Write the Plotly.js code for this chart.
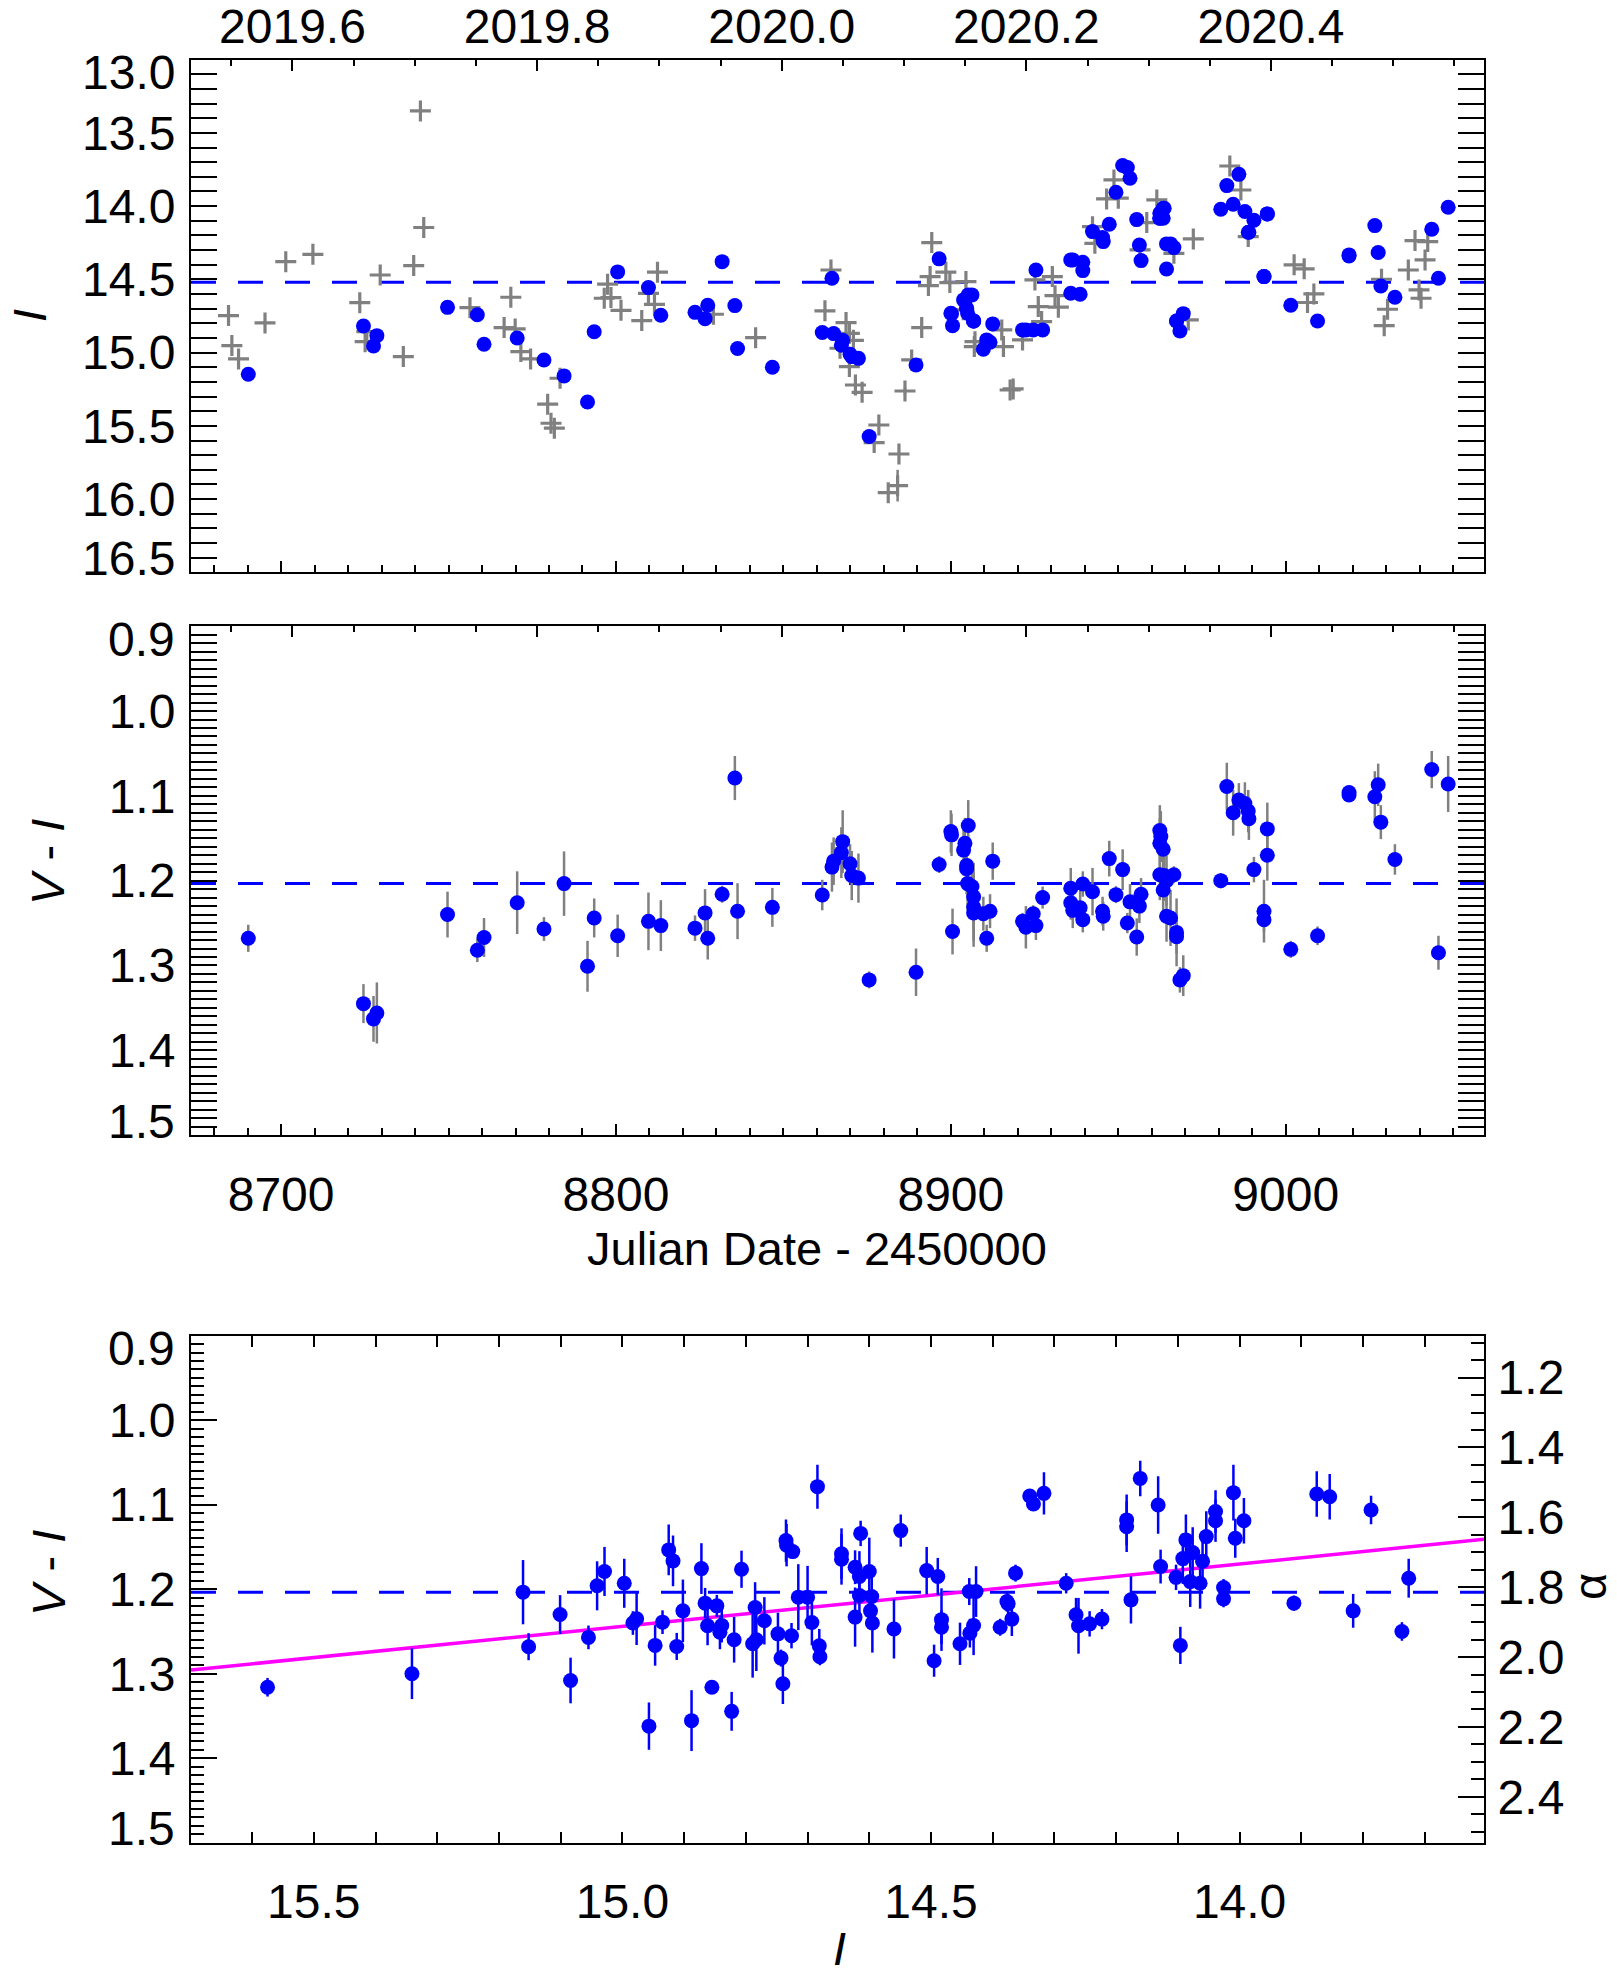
<!DOCTYPE html>
<html>
<head>
<meta charset="utf-8">
<script src="https://cdn.plot.ly/plotly-3.0.1.min.js"></script>
<style>html,body{margin:0;padding:0;background:#fff}</style>
</head>
<body>
<div id="chart" style="width:1617px;height:1979px"></div>
<script>
// ---------- Data: epochs with V and I (blue) ----------
const jdColor = [8690.2, 8724.6, 8727.6, 8728.6, 8749.7, 8758.6, 8760.6, 8770.5, 8778.5, 8784.5, 8791.5, 8793.5, 8800.5,
  8809.7, 8813.4, 8823.6, 8826.6, 8827.4, 8831.7, 8835.5, 8836.3, 8846.7, 8861.6,
  8864.5, 8865.0, 8867.3, 8867.7, 8869.9, 8870.4, 8872.4, 8875.6, 8889.6, 8896.5, 8900.0, 8900.2, 8900.5,
  8905.2, 8904.2, 8903.8, 8904.7, 8904.7, 8905.0, 8906.3, 8906.8, 8906.8, 8906.8,
  8912.5, 8909.7, 8911.7, 8910.7, 8921.4, 8922.4, 8924.6, 8925.4, 8927.4,
  8935.8, 8935.8, 8936.4, 8939.4, 8938.6, 8939.4, 8942.3, 8945.3, 8945.5, 8947.3, 8949.3, 8951.3, 8952.7, 8953.5, 8955.5, 8956.3, 8956.8,
  8962.4, 8962.7, 8962.4, 8963.4, 8962.4, 8963.7, 8966.6, 8964.4, 8963.4, 8964.4, 8965.6, 8967.4, 8967.4, 8968.4, 8969.4,
  8980.6, 8982.4, 8984.3, 8986.0, 8987.8, 8988.8, 8989.0, 8990.5, 8994.5, 8994.5, 8993.5, 8993.5,
  9001.5, 9009.5, 9018.9, 9018.9, 9026.6, 9027.6, 9028.4, 9032.6, 9043.6, 9045.6, 9048.5];
const iColor = [15.148, 14.818, 14.955, 14.884, 14.691, 14.741, 14.943, 14.900, 15.050, 15.159, 15.337, 14.857, 14.449,
  14.556, 14.745, 14.725, 14.768, 14.677, 14.379, 14.679, 14.972, 15.100, 14.863,
  14.492, 14.870, 14.950, 14.916, 15.011, 15.027, 15.039, 15.573, 15.084, 14.360, 14.731, 14.735, 14.816,
  14.606, 14.640, 14.640, 14.697, 14.697, 14.731, 14.606, 14.784, 14.784, 14.784,
  14.804, 14.977, 14.929, 14.913, 14.845, 14.845, 14.845, 14.436, 14.845,
  14.595, 14.367, 14.367, 14.383, 14.602, 14.440, 14.174, 14.215, 14.242, 14.124, 13.905, 13.723, 13.737, 13.810, 14.092, 14.265, 14.372,
  14.083, 14.049, 14.083, 14.015, 14.049, 14.015, 14.283, 14.429, 14.083, 14.258, 14.258, 14.784, 14.784, 14.852, 14.734,
  14.021, 13.860, 13.987, 13.783, 14.037, 14.178, 14.178, 14.096, 14.053, 14.053, 14.481, 14.481,
  14.677, 14.784, 14.333, 14.340, 14.133, 14.317, 14.545, 14.622, 14.158, 14.492, 14.008];
const viColor = [1.268, 1.345, 1.363, 1.356, 1.240, 1.282, 1.267, 1.226, 1.257, 1.2035, 1.301, 1.244, 1.265,
  1.248, 1.253, 1.256, 1.238, 1.268, 1.216, 1.079, 1.236, 1.2315, 1.217,
  1.184, 1.177, 1.167, 1.154, 1.180, 1.194, 1.197, 1.317, 1.308, 1.181, 1.142, 1.146, 1.260,
  1.135, 1.156, 1.164, 1.182, 1.186, 1.2035, 1.207, 1.219, 1.231, 1.238,
  1.177, 1.239, 1.236, 1.268, 1.248, 1.255, 1.239, 1.253, 1.220,
  1.209, 1.226, 1.235, 1.204, 1.232, 1.246, 1.213, 1.236, 1.242, 1.174, 1.2165, 1.187, 1.250, 1.225, 1.2665, 1.230, 1.216,
  1.141, 1.148, 1.156, 1.163, 1.193, 1.194, 1.193, 1.200, 1.211, 1.242, 1.244, 1.261, 1.266, 1.317, 1.312,
  1.200, 1.089, 1.120, 1.105, 1.109, 1.118, 1.127, 1.187, 1.139, 1.170, 1.236, 1.246,
  1.281, 1.265, 1.096, 1.099, 1.101, 1.087, 1.131, 1.175, 1.069, 1.285, 1.086];
const viColorErr = [0.016, 0.023, 0.027, 0.036, 0.027, 0.014, 0.023, 0.037, 0.014, 0.038, 0.030, 0.023, 0.025,
  0.034, 0.030, 0.015, 0.028, 0.025, 0.010, 0.026, 0.033, 0.023, 0.018,
  0.029, 0.028, 0.030, 0.037, 0.023, 0.029, 0.029, 0.010, 0.028, 0.010, 0.025, 0.025, 0.027,
  0.03, 0.03, 0.03, 0.03, 0.03, 0.03, 0.03, 0.04, 0.04, 0.04,
  0.022, 0.02, 0.02, 0.016, 0.01, 0.025, 0.01, 0.017, 0.013,
  0.024, 0.02, 0.021, 0.015, 0.02, 0.015, 0.028, 0.017, 0.017, 0.021, 0.01, 0.024, 0.012, 0.021, 0.022, 0.02, 0.019,
  0.03, 0.03, 0.03, 0.03, 0.03, 0.03, 0.01, 0.03, 0.03, 0.03, 0.033, 0.04, 0.02, 0.015, 0.024,
  0.009, 0.028, 0.027, 0.02, 0.025, 0.025, 0.025, 0.015, 0.031, 0.03, 0.037, 0.015,
  0.01, 0.011, 0.008, 0.008, 0.03, 0.025, 0.02, 0.018, 0.022, 0.02, 0.033];

// ---------- Data: I-only epochs (grey crosses) ----------
const jdGrey = [8684.3, 8685.3, 8687.3, 8695.2, 8701.4, 8709.5, 8723.5, 8725.6, 8725.1, 8729.6, 8736.5, 8739.6, 8741.6, 8742.6,
  8756.4, 8766.6, 8768.6, 8769.9, 8771.6, 8774.5, 8779.6, 8780.6, 8781.6, 8783.3, 8797.5, 8796.5, 8798.5, 8801.5,
  8807.7, 8812.4, 8811.5, 8809.7, 8829.1, 8841.7, 8862.4, 8864.2, 8868.7, 8869.7, 8870.9, 8866.9, 8869.7, 8871.5, 8873.5,
  8878.5, 8877.1, 8884.5, 8884.1, 8881.3, 8886.3, 8888.3, 8891.3, 8894.3, 8893.8, 8893.3, 8898.5, 8899.7, 8904.5, 8903.7,
  8915.2, 8915.7, 8907.2, 8907.0, 8917.7, 8918.6, 8921.4, 8925.1, 8926.1, 8930.3, 8931.1, 8932.1, 8927.1,
  8942.3, 8943.0, 8946.5, 8948.7, 8950.0, 8958.5, 8961.5, 8966.6, 8956.5, 8972.4, 8970.9, 8983.3, 8986.6, 8988.8,
  9002.5, 9005.5, 9008.4, 9006.5, 9028.6, 9030.4, 9029.4, 9036.6, 9038.6, 9042.4, 9041.6, 9039.8, 9040.4];
const iGrey = [14.747, 14.952, 15.043, 14.797, 14.379, 14.329, 14.659, 14.857, 14.925, 14.470, 15.027, 14.406, 13.350, 14.146,
  14.693, 14.829, 14.622, 14.838, 14.993, 15.043, 15.352, 15.482, 15.516, 15.175, 14.533, 14.629, 14.624, 14.711,
  14.781, 14.451, 14.670, 14.595, 14.738, 14.898, 14.715, 14.436, 14.795, 14.868, 14.916, 14.970, 15.095, 15.221, 15.271,
  15.494, 15.614, 15.692, 15.908, 15.956, 15.262, 15.050, 14.829, 14.249, 14.481, 14.542, 14.451, 14.522, 14.515, 14.708,
  14.845, 14.959, 14.925, 14.959, 15.255, 15.248, 14.913, 14.504, 14.686, 14.481, 14.611, 14.690, 14.788,
  14.140, 14.254, 13.951, 13.821, 13.946, 14.112, 13.958, 14.322, 14.299, 14.224, 14.777, 13.726, 13.890, 14.208,
  14.401, 14.428, 14.599, 14.658, 14.499, 14.704, 14.816, 14.436, 14.235, 14.242, 14.367, 14.572, 14.629];
const iGreyErr = [0, 0, 0, 0, 0, 0, 0, 0, 0, 0, 0, 0, 0, 0,
  0, 0, 0, 0, 0, 0, 0, 0, 0, 0, 0, 0, 0, 0,
  0, 0, 0, 0, 0, 0, 0, 0.02, 0, 0, 0, 0, 0, 0, 0,
  0, 0, 0, 0.108, 0, 0.03, 0.045, 0.04, 0, 0, 0, 0, 0, 0, 0.03,
  0, 0, 0, 0, 0, 0, 0.05, 0, 0.04, 0.05, 0, 0, 0,
  0, 0, 0, 0, 0, 0, 0, 0, 0, 0, 0, 0, 0, 0,
  0, 0, 0, 0, 0, 0, 0, 0, 0, 0, 0, 0, 0];

// ---------- Data: colour-magnitude panel ----------
const iCmd = [15.575, 15.341, 15.161, 15.152, 15.101, 15.084, 15.055, 15.041, 15.029, 14.997, 14.983,
  14.977, 14.947, 14.935, 14.925, 14.918, 14.902, 14.912, 14.872, 14.866, 14.862, 14.847, 14.842, 14.839, 14.855,
  14.888, 14.957, 14.823, 14.819, 14.807, 14.789, 14.783, 14.785, 14.770, 14.748, 14.743, 14.740, 14.735, 14.734,
  14.724, 14.726, 14.715, 14.700, 14.693, 14.684, 14.681, 14.680, 14.645, 14.645, 14.623, 14.616, 14.614, 14.600,
  14.616, 14.596, 14.623, 14.598, 14.595, 14.560, 14.549, 14.507, 14.489, 14.495, 14.483, 14.483, 14.453, 14.438,
  14.427, 14.437, 14.431, 14.388, 14.377, 14.375, 14.369, 14.363, 14.340, 14.334, 14.317, 14.281,
  14.265, 14.261, 14.243, 14.223, 14.183, 14.183, 14.176, 14.161, 14.132, 14.128, 14.103, 14.096, 14.087, 14.092,
  14.076, 14.080, 14.064, 14.060, 14.054, 14.039, 14.039, 14.026, 14.026, 14.010, 14.007, 13.993, 13.912, 13.875,
  13.854, 13.816, 13.787, 13.737, 13.726];
const viCmd = [1.316, 1.300, 1.2035, 1.268, 1.230, 1.308, 1.257, 1.196, 1.179, 1.193, 1.240,
  1.235, 1.2665, 1.239, 1.1535, 1.1665, 1.2256, 1.2677, 1.1756, 1.2165, 1.2433, 1.2197, 1.251, 1.243, 1.316,
  1.3555, 1.362, 1.3445, 1.2598, 1.1764, 1.2646, 1.2598, 1.2217, 1.2374, 1.2528, 1.2815, 1.3118, 1.1425, 1.148,
  1.1555, 1.255, 1.2094, 1.2094, 1.2394, 1.0787, 1.267, 1.280, 1.158, 1.1646, 1.174, 1.185, 1.134, 1.179,
  1.2075, 1.2087, 1.233, 1.2256, 1.240, 1.247, 1.1307, 1.178, 1.185, 1.2846, 1.236, 1.245, 1.2646, 1.2028,
  1.2028, 1.252, 1.243, 1.245, 1.2146, 1.2173, 1.2354, 1.181, 1.0898, 1.0992, 1.0866, 1.193,
  1.2303, 1.2433, 1.241, 1.2354, 1.118, 1.126, 1.2126, 1.0689, 1.1004, 1.1732, 1.186, 1.2665, 1.1417, 1.1638,
  1.1567, 1.191, 1.193, 1.167, 1.1378, 1.108, 1.119, 1.198, 1.2114, 1.0858, 1.1398, 1.119, 1.2165, 1.0874,
  1.0906, 1.2256, 1.1063, 1.250, 1.187];
const viCmdErr = [0.011, 0.030, 0.038, 0.016, 0.023, 0.027, 0.014, 0.029, 0.029, 0.029, 0.014,
  0.031, 0.024, 0.014, 0.03, 0.03, 0.037, 0.016, 0.03, 0.018, 0.023, 0.013, 0.02, 0.02, 0.008,
  0.036, 0.028, 0.023, 0.027, 0.022, 0.04, 0.037, 0.03, 0.028, 0.025, 0.01, 0.024, 0.025, 0.025,
  0.007, 0.015, 0.039, 0.037, 0.027, 0.026, 0.02, 0.01, 0.03, 0.03, 0.02, 0.03, 0.015, 0.04,
  0.03, 0.03, 0.035, 0.02, 0.035, 0.035, 0.019, 0.028, 0.022, 0.019, 0.037, 0.02, 0.025, 0.016,
  0.03, 0.017, 0.035, 0.01, 0.012, 0.012, 0.02, 0.01, 0.008, 0.008, 0.025, 0.012,
  0.02, 0.033, 0.015, 0.012, 0.03, 0.03, 0.028, 0.021, 0.034, 0.02, 0.015, 0.022, 0.03, 0.03,
  0.03, 0.03, 0.03, 0.03, 0.03, 0.025, 0.025, 0.01, 0.01, 0.033, 0.023, 0.027, 0.009, 0.027,
  0.027, 0.02, 0.017, 0.011, 0.023];

// ---------- Reference values ----------
const iMean = 14.52;          // mean I (dashed line, top panel)
const viMean = 1.2035;        // mean V-I (dashed lines)
const fitSlope = 0.0738;      // V-I per mag of I (magenta fit)
const fitViAt145 = 1.2071;    // fitted V-I at I = 14.5
const jdRange = [8673.1, 9059.2];
const iLimits = [16.5, 13.0];      // top panel I axis (bottom, top)
const viLimits = [1.5, 0.9];       // V-I axes (bottom, top)
const iRangeCmd = [15.699, 13.604];
const yearOf = jd => 2020 + (jd - 8849.5) / 365.25;
const alphaOf = vi => 1.8 + 2.419 * (vi - 1.1976);
// the end labels sit inside the frame, so the axis range is trimmed a hair and they are written separately
const trim = (r, e) => [r[0] - e, r[1] + e];

// ---------- Layout geometry ----------
const W = 1617, H = 1979;
const xDom = [191 / W, 1484 / W];
const dom1 = [1 - 572.3 / H, 1 - 59.7 / H];
const dom2 = [1 - 1135 / H, 1 - 626.3 / H];
const dom3 = [1 - 1842.7 / H, 1 - 1335.7 / H];

const BLUE = '#0000ff', GREY = '#808080';
const TICKFONT = {family: 'Liberation Sans, Arial, Helvetica, sans-serif', size: 48, color: 'black'};
const FONT = {family: 'Liberation Sans, Arial, Helvetica, sans-serif', size: 47, color: 'black'};
const base = {showline: true, linecolor: 'black', linewidth: 2, ticks: 'inside', tickcolor: 'black',
  tickwidth: 2, showgrid: false, zeroline: false, fixedrange: true, tickfont: TICKFONT};
const minor = (d, len) => ({dtick: d, ticklen: len, ticks: 'inside', tickwidth: 2, tickcolor: 'black', showgrid: false});

const fitX = iRangeCmd.slice();
const fitY = fitX.map(v => fitViAt145 + fitSlope * (v - 14.5));

const traces = [
  // top panel
  {x: jdGrey, y: iGrey, xaxis: 'x', yaxis: 'y', mode: 'markers', type: 'scatter',
   marker: {symbol: 'cross-thin', size: 15, line: {color: GREY, width: 3.2}, color: GREY},
   error_y: {type: 'data', array: iGreyErr, color: GREY, thickness: 2.5, width: 0}, hoverinfo: 'skip'},
  {x: jdColor, y: iColor, xaxis: 'x', yaxis: 'y', mode: 'markers', type: 'scatter',
   marker: {symbol: 'circle', size: 15, color: BLUE}, hoverinfo: 'skip'},
  {x: jdRange.map(yearOf), y: [iMean, iMean], xaxis: 'x2', yaxis: 'y', mode: 'markers',
   marker: {opacity: 0}, hoverinfo: 'skip'},
  // middle panel
  {x: jdColor, y: viColor, xaxis: 'x3', yaxis: 'y2', mode: 'markers', type: 'scatter',
   marker: {symbol: 'circle', size: 15, color: BLUE},
   error_y: {type: 'data', array: viColorErr, color: GREY, thickness: 2.5, width: 0}, hoverinfo: 'skip'},
  {x: jdRange.map(yearOf), y: [viMean, viMean], xaxis: 'x4', yaxis: 'y2', mode: 'markers',
   marker: {opacity: 0}, hoverinfo: 'skip'},
  // bottom panel
  {x: fitX, y: fitY, xaxis: 'x5', yaxis: 'y3', mode: 'lines', line: {color: '#ff00ff', width: 3.5}, hoverinfo: 'skip'},
  {x: iCmd, y: viCmd, xaxis: 'x5', yaxis: 'y3', mode: 'markers', type: 'scatter',
   marker: {symbol: 'circle', size: 15, color: BLUE},
   error_y: {type: 'data', array: viCmdErr, color: BLUE, thickness: 2.5, width: 0}, hoverinfo: 'skip'},
  {x: iRangeCmd, y: viLimits.map(alphaOf), xaxis: 'x5', yaxis: 'y4', mode: 'markers',
   marker: {opacity: 0}, hoverinfo: 'skip'}
];

// end-of-axis labels, nudged inside the frame as in the original figure
const edgeLabel = (val, yPaper, shift) => ({text: val.toFixed(1), xref: 'paper', yref: 'paper', x: 177 / W,
  y: yPaper, xanchor: 'right', yanchor: 'middle', yshift: shift, showarrow: false, font: TICKFONT});

const layout = {
  width: W, height: H, margin: {l: 0, r: 0, t: 0, b: 0},
  paper_bgcolor: 'white', plot_bgcolor: 'white', showlegend: false, font: FONT,
  xaxis: Object.assign({}, base, {domain: xDom, anchor: 'y', range: jdRange, tick0: 8700, dtick: 100,
    ticklen: 11, showticklabels: false, minor: minor(10, 7)}),
  xaxis2: Object.assign({}, base, {domain: xDom, anchor: 'y', overlaying: 'x', side: 'top',
    range: jdRange.map(yearOf), tick0: 2019.6, dtick: 0.2, tickformat: '.1f', ticklen: 11,
    ticklabelstandoff: -4, minor: minor(0.05, 6)}),
  yaxis: Object.assign({}, base, {domain: dom1, anchor: 'x', range: trim(iLimits, 0.0005), tick0: 13, dtick: 0.5,
    tickformat: '.1f', ticklen: 26, mirror: 'allticks', ticklabelstandoff: 4, minor: minor(0.1, 13)}),
  xaxis3: Object.assign({}, base, {domain: xDom, anchor: 'y2', range: jdRange, tick0: 8700, dtick: 100,
    tickformat: 'd', ticklen: 11, ticklabelstandoff: 16, minor: minor(10, 7)}),
  xaxis4: Object.assign({}, base, {domain: xDom, anchor: 'y2', overlaying: 'x3', side: 'top',
    range: jdRange.map(yearOf), tick0: 2019.6, dtick: 0.2, ticklen: 11, showticklabels: false,
    minor: minor(0.05, 6)}),
  yaxis2: Object.assign({}, base, {domain: dom2, anchor: 'x3', range: trim(viLimits, 0.0001), tick0: 0.9, dtick: 0.1,
    tickformat: '.1f', ticklen: 26, mirror: 'allticks', ticklabelstandoff: 4, minor: minor(0.01, 13)}),
  xaxis5: Object.assign({}, base, {domain: xDom, anchor: 'y3', range: iRangeCmd, tick0: 15.5, dtick: 0.5,
    tickformat: '.1f', ticklen: 11, mirror: 'allticks', ticklabelstandoff: 16, minor: minor(0.1, 7)}),
  yaxis3: Object.assign({}, base, {domain: dom3, anchor: 'x5', range: trim(viLimits, 0.0001), tick0: 0.9, dtick: 0.1,
    tickformat: '.1f', ticklen: 26, ticklabelstandoff: 4, minor: minor(0.01, 13)}),
  yaxis4: Object.assign({}, base, {domain: dom3, anchor: 'x5', overlaying: 'y3', side: 'right',
    range: viLimits.map(alphaOf), tick0: 1.2, dtick: 0.2, tickformat: '.1f', ticklen: 26,
    ticklabelstandoff: 2, minor: minor(0.05, 13)}),
  shapes: [
    {type: 'line', xref: 'x domain', yref: 'y', x0: 0, x1: 1, y0: iMean, y1: iMean, layer: 'below',
     line: {color: BLUE, width: 3, dash: '25px,22px'}},
    {type: 'line', xref: 'x3 domain', yref: 'y2', x0: 0, x1: 1, y0: viMean, y1: viMean, layer: 'below',
     line: {color: BLUE, width: 3, dash: '25px,22px'}},
    {type: 'line', xref: 'x5 domain', yref: 'y3', x0: 0, x1: 1, y0: viMean, y1: viMean, layer: 'below',
     line: {color: BLUE, width: 3, dash: '25px,22px'}}
  ],
  annotations: [
    edgeLabel(iLimits[1], dom1[1], -13), edgeLabel(iLimits[0], dom1[0], 14),
    edgeLabel(viLimits[1], dom2[1], -13), edgeLabel(viLimits[0], dom2[0], 14),
    edgeLabel(viLimits[1], dom3[1], -13), edgeLabel(viLimits[0], dom3[0], 14),
    {text: '<i>I</i>', xref: 'paper', yref: 'paper', x: 29 / W, y: 1 - 316 / H, showarrow: false, textangle: -90,
     xanchor: 'center', yanchor: 'middle', font: FONT},
    {text: '<i>V</i> - <i>I</i>', xref: 'paper', yref: 'paper', x: 48 / W, y: 1 - 862 / H, showarrow: false,
     textangle: -90, xanchor: 'center', yanchor: 'middle', font: FONT},
    {text: 'Julian Date - 2450000', xref: 'paper', yref: 'paper', x: 817 / W, y: 1 - 1248 / H, showarrow: false,
     xanchor: 'center', yanchor: 'middle', font: FONT},
    {text: '<i>V</i> - <i>I</i>', xref: 'paper', yref: 'paper', x: 48 / W, y: 1 - 1573 / H, showarrow: false,
     textangle: -90, xanchor: 'center', yanchor: 'middle', font: FONT},
    {text: '<i>I</i>', xref: 'paper', yref: 'paper', x: 840 / W, y: 1 - 1948 / H, showarrow: false,
     xanchor: 'center', yanchor: 'middle', font: FONT},
    {text: 'α', xref: 'paper', yref: 'paper', x: 1589 / W, y: 1 - 1587 / H, showarrow: false, textangle: -90,
     xanchor: 'center', yanchor: 'middle', font: FONT}
  ]
};

Plotly.newPlot('chart', traces, layout, {staticPlot: true, displayModeBar: false});
</script>
</body>
</html>
